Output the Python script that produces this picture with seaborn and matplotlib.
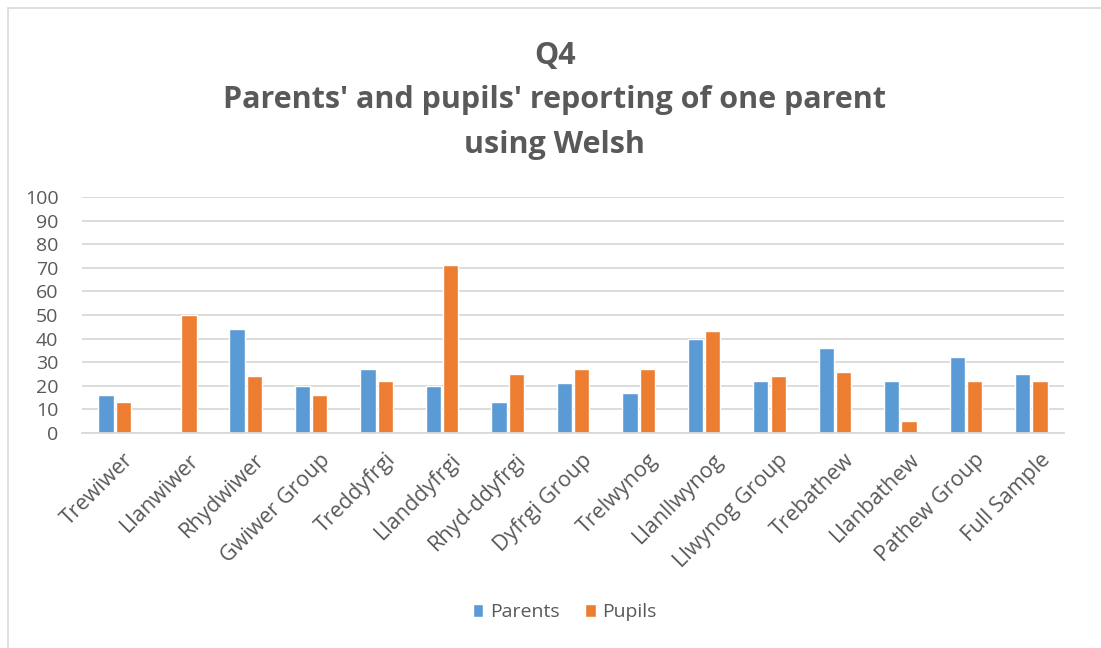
import numpy as np
import pandas as pd
import matplotlib.pyplot as plt
import matplotlib.transforms as mtransforms
import seaborn as sns
from matplotlib.patches import Rectangle

SCHOOLS = [
    'Trewiwer', 'Llanwiwer', 'Rhydwiwer', 'Gwiwer Group', 'Treddyfrgi',
    'Llanddyfrgi', 'Rhyd-ddyfrgi', 'Dyfrgi Group', 'Trelwynog', 'Llanllwynog',
    'Llwynog Group', 'Trebathew', 'Llanbathew', 'Pathew Group', 'Full Sample',
]
PARENTS = [16, 0, 44, 20, 27, 20, 13, 21, 17, 40, 22, 36, 22, 32, 25]
PUPILS = [13, 50, 24, 16, 22, 71, 25, 27, 27, 43, 24, 26, 5, 22, 22]

TEXT = '#595959'
GRID = '#D9D9D9'

df = pd.DataFrame({
    'School': SCHOOLS * 2,
    'Value': PARENTS + PUPILS,
    'Group': ['Parents'] * len(SCHOOLS) + ['Pupils'] * len(SCHOOLS),
})

sns.set_style('white')
plt.rcParams['font.family'] = ['Open Sans', 'DejaVu Sans']

fig = plt.figure(figsize=(11.01, 6.48), dpi=100)
ax = fig.add_axes([0.0745, 0.332, 0.892, 0.364])

sns.barplot(
    data=df, x='School', y='Value', hue='Group',
    palette={'Parents': '#5B9BD5', 'Pupils': '#ED7D31'},
    saturation=1, width=0.53, gap=0.12, ax=ax, legend=True,
)

ax.set_ylim(0, 100)
ax.set_yticks(range(0, 101, 10))
ax.set_xlim(-0.5, len(SCHOOLS) - 0.5)
ax.yaxis.grid(True, color=GRID, linewidth=1.3)
ax.set_axisbelow(True)
for side in ['top', 'right', 'left']:
    ax.spines[side].set_visible(False)
ax.spines['bottom'].set_color(GRID)
ax.spines['bottom'].set_linewidth(1.3)
ax.tick_params(axis='both', length=0, colors=TEXT, labelsize=14)
ax.tick_params(axis='x', pad=12, labelsize=15.5)
ax.tick_params(axis='y', pad=17)
shift = mtransforms.ScaledTranslation(6 / 72, 0, fig.dpi_scale_trans)
for lbl in ax.get_xticklabels():
    lbl.set_rotation(45)
    lbl.set_ha('right')
    lbl.set_rotation_mode('anchor')
    lbl.set_transform(lbl.get_transform() + shift)
ax.set_xlabel('')
ax.set_ylabel('')

handles, labels = ax.get_legend_handles_labels()
ax.get_legend().remove()
fig.legend(handles, labels, loc='center', bbox_to_anchor=(0.513, 0.055),
           ncol=2, frameon=False, handlelength=0.55, handleheight=0.7,
           handletextpad=0.35, columnspacing=1.3, labelcolor=TEXT,
           prop={'size': 14})

fig.text(0.504, 0.845,
         "Q4\nParents' and pupils' reporting of one parent\nusing Welsh",
         ha='center', va='center', fontsize=22, fontweight='bold',
         color=TEXT, linespacing=1.62)

fig.patches.append(Rectangle((0.007, -0.02), 1.02, 1.0077,
                             transform=fig.transFigure, fill=False,
                             edgecolor=GRID, linewidth=1.2))

fig.savefig('out.png', dpi=100, facecolor='white')
